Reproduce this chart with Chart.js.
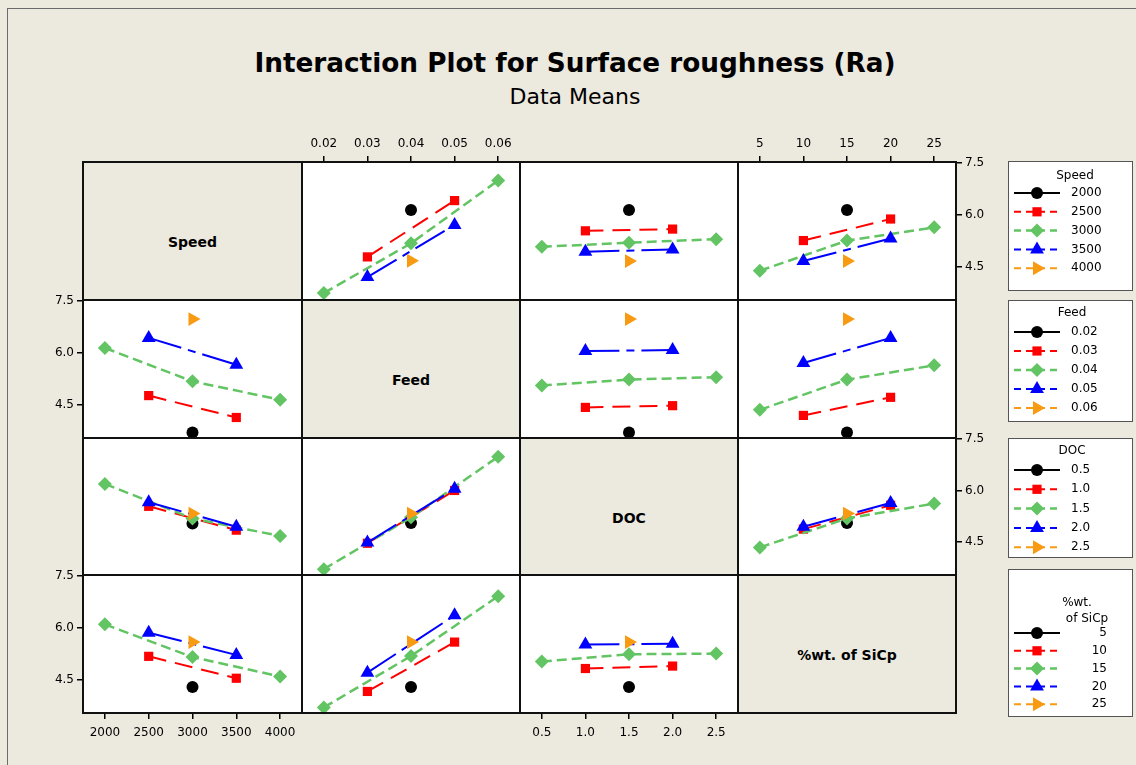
<!DOCTYPE html>
<html>
<head>
<meta charset="utf-8">
<script src="https://cdn.jsdelivr.net/npm/chart.js@4.4.0/dist/chart.umd.min.js"></script>
<style>
  html, body { margin: 0; padding: 0; }
  body { width: 1136px; height: 765px; background: #ECE9DF; position: relative; overflow: hidden; font-family: "DejaVu Sans", sans-serif; }
  #frame { position: absolute; left: 7px; top: 8px; width: 1200px; height: 800px; border: 1px solid #6b6b6b; }
  #title { position: absolute; left: 0; width: 1150px; top: 48px; text-align: center; font: bold 26.3px "DejaVu Sans"; color: #000; }
  #subtitle { position: absolute; left: 0; width: 1150px; top: 84px; text-align: center; font: 22px "DejaVu Sans"; color: #000; }
  canvas { position: absolute; }
  .diag { position: absolute; box-sizing: border-box; border: 2px solid #111; background: #ECE9DF; padding-top: 22px;
          display: flex; align-items: center; justify-content: center; font: bold 14px "DejaVu Sans"; color: #000; }
</style>
</head>
<body>
<div id="frame"></div>
<div id="title">Interaction Plot for Surface roughness (Ra)</div>
<div id="subtitle">Data Means</div>
<canvas id="legend" width="136" height="590" style="left:1000px;top:150px"></canvas>

<script>
// -- factor levels --
const factorNames = ['Speed', 'Feed', 'DOC', '%wt. of SiCp'];
const speedLevels = [2000, 2500, 3000, 3500, 4000];
const feedLevels = [0.02, 0.03, 0.04, 0.05, 0.06];
const docLevels = [0.5, 1.0, 1.5, 2.0, 2.5];
const wtLevels = [5, 10, 15, 20, 25];
const yTicks = [4.5, 6.0, 7.5];

// -- means (rows = level of the trace factor, cols = level of the x factor) --
const speedByFeed = [
  [null, null, 6.14, null, null],
  [null, 4.79, null, 6.41, null],
  [3.75, null, 5.18, null, 6.99],
  [null, 4.21, null, 5.71, null],
  [null, null, 4.68, null, null]
];
const speedByDoc = [
  [null, null, 6.14, null, null],
  [null, 5.54, null, 5.59, null],
  [5.08, null, 5.20, null, 5.30],
  [null, 4.94, null, 5.00, null],
  [null, null, 4.67, null, null]
];
const speedByWt = [
  [null, null, 6.14, null, null],
  [null, 5.26, null, 5.88, null],
  [4.39, null, 5.26, null, 5.64],
  [null, 4.67, null, 5.32, null],
  [null, null, 4.67, null, null]
];
const feedBySpeed = [
  [null, null, 3.71, null, null],
  [null, 4.77, null, 4.14, null],
  [6.14, null, 5.18, null, 4.65],
  [null, 6.43, null, 5.66, null],
  [null, null, 6.97, null, null]
];
const feedByDoc = [
  [null, null, 3.71, null, null],
  [null, 4.43, null, 4.48, null],
  [5.06, null, 5.23, null, 5.30],
  [null, 6.05, null, 6.08, null],
  [null, null, 6.97, null, null]
];
const feedByWt = [
  [null, null, 3.71, null, null],
  [null, 4.20, null, 4.72, null],
  [4.36, null, 5.23, null, 5.64],
  [null, 5.71, null, 6.43, null],
  [null, null, 6.97, null, null]
];
const docBySpeed = [
  [null, null, 5.04, null, null],
  [null, 5.54, null, 4.85, null],
  [6.19, null, 5.19, null, 4.68],
  [null, 5.66, null, 4.95, null],
  [null, null, 5.33, null, null]
];
const docByFeed = [
  [null, null, 5.06, null, null],
  [null, 4.47, null, 6.00, null],
  [3.72, null, 5.22, null, 6.98],
  [null, 4.49, null, 6.05, null],
  [null, null, 5.33, null, null]
];
const docByWt = [
  [null, null, 5.06, null, null],
  [null, 4.88, null, 5.57, null],
  [4.35, null, 5.19, null, 5.62],
  [null, 4.95, null, 5.64, null],
  [null, null, 5.33, null, null]
];
const wtBySpeed = [
  [null, null, 4.30, null, null],
  [null, 5.18, null, 4.55, null],
  [6.10, null, 5.16, null, 4.60],
  [null, 5.86, null, 5.22, null],
  [null, null, 5.59, null, null]
];
const wtByFeed = [
  [null, null, 4.30, null, null],
  [null, 4.17, null, 5.59, null],
  [3.71, null, 5.19, null, 6.91],
  [null, 4.71, null, 6.36, null],
  [null, null, 5.59, null, null]
];
const wtByDoc = [
  [null, null, 4.30, null, null],
  [null, 4.83, null, 4.90, null],
  [5.03, null, 5.24, null, 5.26],
  [null, 5.52, null, 5.54, null],
  [null, null, 5.59, null, null]
];

const levels = [speedLevels, feedLevels, docLevels, wtLevels];
const means = [
  [null, speedByFeed, speedByDoc, speedByWt],
  [feedBySpeed, null, feedByDoc, feedByWt],
  [docBySpeed, docByFeed, null, docByWt],
  [wtBySpeed, wtByFeed, wtByDoc, null]
];
const fmt = [v => String(v), v => v.toFixed(2), v => v.toFixed(1), v => String(v)];

// -- layout / style --
const colX = [83, 302, 520, 738, 956];
const rowY = [162, 300, 438, 575, 713];
const xRanges = [[1750, 4250], [0.015, 0.065], [0.25, 2.75], [2.5, 27.5]];
const yRange = [3.55, 7.52];
const M = 45;

const seriesColors = ['#000000', '#ff0000', '#62c462', '#0000ff', '#f89a12'];
const seriesShapes = ['circle', 'rect', 'rectRot', 'triangle', 'triangle'];
const seriesRot = [0, 0, 0, 0, 90];
const seriesRadius = [6, 6.5, 7, 8, 8];
const seriesDash = [[], [18, 9], [10, 5], [34, 7, 8, 7], [10, 6]];
const seriesWidth = [2, 2, 2.5, 2, 2];

const tickFont = { family: 'DejaVu Sans', size: 12 };

const framePlugin = {
  id: 'frame',
  beforeDraw(chart) {
    const { ctx, chartArea: a } = chart;
    ctx.save();
    ctx.fillStyle = '#fff';
    ctx.fillRect(a.left, a.top, a.right - a.left, a.bottom - a.top);
    ctx.restore();
  },
  afterDraw(chart) {
    const { ctx, chartArea: a } = chart;
    ctx.save();
    ctx.strokeStyle = '#111';
    ctx.lineWidth = 2;
    ctx.strokeRect(a.left, a.top, a.right - a.left, a.bottom - a.top);
    ctx.restore();
  }
};

function makeDiag(i) {
  const d = document.createElement('div');
  d.className = 'diag';
  d.style.left = (colX[i] - 1) + 'px';
  d.style.top = (rowY[i] - 1) + 'px';
  d.style.width = (colX[i + 1] - colX[i] + 2) + 'px';
  d.style.height = (rowY[i + 1] - rowY[i] + 2) + 'px';
  d.textContent = factorNames[i];
  document.body.appendChild(d);
}

function makePanel(r, c) {
  const left = colX[c], top = rowY[r];
  const w = colX[c + 1] - left, h = rowY[r + 1] - top;

  let xPos = null, yPos = null;
  if (r === 3 && (c === 0 || c === 2)) xPos = 'bottom';
  if (r === 0 && (c === 1 || c === 3)) xPos = 'top';
  if (c === 0 && (r === 1 || r === 3)) yPos = 'left';
  if (c === 3 && (r === 0 || r === 2)) yPos = 'right';

  const cv = document.createElement('canvas');
  cv.width = w + 2 * M;
  cv.height = h + 2 * M;
  cv.style.left = (left - M) + 'px';
  cv.style.top = (top - M) + 'px';
  document.body.appendChild(cv);

  const datasets = means[r][c].map((vals, i) => ({
    data: levels[c].map((x, k) => ({ x, y: vals[k] })).filter(p => p.y !== null),
    borderColor: seriesColors[i],
    backgroundColor: seriesColors[i],
    borderWidth: seriesWidth[i],
    borderDash: seriesDash[i],
    borderCapStyle: 'butt',
    pointStyle: seriesShapes[i],
    pointRotation: seriesRot[i],
    pointRadius: seriesRadius[i],
    pointBackgroundColor: seriesColors[i],
    pointBorderWidth: 0,
    tension: 0,
    clip: false,
    order: 4 - i
  }));

  const tickGrid = { display: true, drawOnChartArea: false, drawTicks: true, tickLength: 6, color: '#000', lineWidth: 1.5 };

  new Chart(cv, {
    type: 'line',
    data: { datasets },
    options: {
      responsive: false,
      animation: false,
      devicePixelRatio: 1,
      layout: {
        padding: {
          left: yPos === 'left' ? 0 : M,
          right: yPos === 'right' ? 0 : M,
          top: xPos === 'top' ? 0 : M,
          bottom: xPos === 'bottom' ? 0 : M
        }
      },
      plugins: { legend: { display: false }, tooltip: { enabled: false } },
      scales: {
        x: {
          type: 'linear',
          position: xPos || 'bottom',
          display: !!xPos,
          min: xRanges[c][0],
          max: xRanges[c][1],
          afterBuildTicks: s => { s.ticks = levels[c].map(v => ({ value: v })); },
          afterFit: s => { if (xPos) s.height = M; },
          grid: tickGrid,
          border: { display: false },
          ticks: { color: '#000', font: tickFont, padding: xPos === 'bottom' ? 7 : 5, maxRotation: 0, autoSkip: false, callback: v => fmt[c](v) }
        },
        y: {
          type: 'linear',
          position: yPos || 'left',
          display: !!yPos,
          min: yRange[0],
          max: yRange[1],
          afterBuildTicks: s => { s.ticks = yTicks.map(v => ({ value: v })); },
          afterFit: s => { if (yPos) s.width = M; },
          grid: tickGrid,
          border: { display: false },
          ticks: { color: '#000', font: tickFont, padding: 3, callback: v => v.toFixed(1) }
        }
      }
    },
    plugins: [framePlugin]
  });
}

for (let r = 0; r < 4; r++) {
  for (let c = 0; c < 4; c++) {
    if (r === c) makeDiag(r);
    else makePanel(r, c);
  }
}

// -- legends --
const lg = document.getElementById('legend').getContext('2d');
const LX = 1000, LY = 150;
const legendBoxes = [
  { top: 161, bottom: 290, title: ['Speed'], titleY: [176], titleX: [1075], y0: 193, step: 18.8, labelAlign: 'left', labelX: 1071 },
  { top: 300, bottom: 421, title: ['Feed'], titleY: [313], titleX: [1072], y0: 332, step: 19, labelAlign: 'left', labelX: 1071 },
  { top: 438, bottom: 557, title: ['DOC'], titleY: [451], titleX: [1072], y0: 470, step: 19.3, labelAlign: 'left', labelX: 1071 },
  { top: 569, bottom: 716, title: ['%wt.', 'of SiCp'], titleY: [603, 619], titleX: [1077, 1087], y0: 633, step: 17.8, labelAlign: 'right', labelX: 1107 }
];

function drawShape(ctx, shape, x, y, r, rot) {
  ctx.beginPath();
  if (shape === 'circle') {
    ctx.arc(x, y, r, 0, Math.PI * 2);
  } else if (shape === 'rect') {
    const s = r * Math.SQRT1_2;
    ctx.rect(x - s, y - s, 2 * s, 2 * s);
  } else if (shape === 'rectRot') {
    ctx.moveTo(x, y - r); ctx.lineTo(x + r, y); ctx.lineTo(x, y + r); ctx.lineTo(x - r, y);
  } else {
    let a = rot * Math.PI / 180;
    for (let k = 0; k < 3; k++) {
      const px = x + Math.sin(a) * r, py = y - Math.cos(a) * r;
      if (k === 0) ctx.moveTo(px, py); else ctx.lineTo(px, py);
      a += 2 * Math.PI / 3;
    }
  }
  ctx.closePath();
  ctx.fill();
}

legendBoxes.forEach((b, bi) => {
  lg.fillStyle = '#fff';
  lg.fillRect(1008 - LX, b.top - LY, 124, b.bottom - b.top);
  lg.strokeStyle = '#555';
  lg.lineWidth = 1;
  lg.strokeRect(1008 - LX + 0.5, b.top - LY + 0.5, 124, b.bottom - b.top);
  lg.fillStyle = '#000';
  lg.font = '12px "DejaVu Sans"';
  lg.textAlign = 'center';
  lg.textBaseline = 'middle';
  b.title.forEach((t, k) => lg.fillText(t, b.titleX[k] - LX, b.titleY[k] - LY));
  levels[bi].forEach((lv, i) => {
    const y = b.y0 + i * b.step - LY;
    lg.save();
    lg.strokeStyle = seriesColors[i];
    lg.lineWidth = seriesWidth[i];
    lg.setLineDash(seriesDash[i].length ? [7, 5] : []);
    lg.beginPath();
    lg.moveTo(1014 - LX, y);
    lg.lineTo(1060 - LX, y);
    lg.stroke();
    lg.restore();
    lg.fillStyle = seriesColors[i];
    drawShape(lg, seriesShapes[i], 1037 - LX, y, seriesRadius[i], seriesRot[i]);
    lg.fillStyle = '#000';
    lg.textAlign = b.labelAlign;
    lg.fillText(fmt[bi](lv), b.labelX - LX, y);
  });
});
</script>
</body>
</html>
